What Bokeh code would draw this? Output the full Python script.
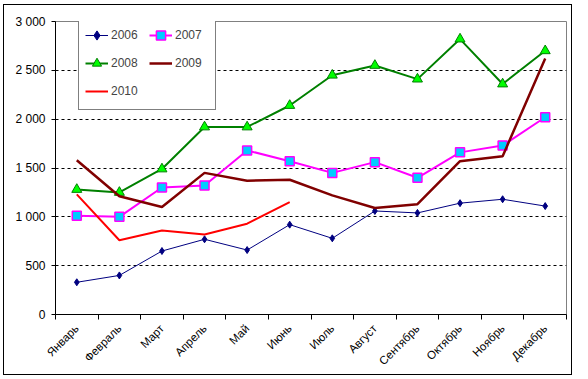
import math
from bokeh.plotting import figure
from bokeh.models import FixedTicker, Legend, LegendItem
from bokeh.embed import file_html
from bokeh.resources import INLINE

months = ["Январь", "Февраль", "Март", "Апрель", "Май", "Июнь",
          "Июль", "Август", "Сентябрь", "Октябрь", "Ноябрь", "Декабрь"]
y2006 = [330, 400, 650, 770, 660, 920, 780, 1060, 1040, 1140, 1180, 1110]
y2007 = [1010, 1000, 1300, 1320, 1680, 1570, 1450, 1560, 1400, 1660, 1730, 2020]
y2008 = [1280, 1250, 1490, 1920, 1920, 2140, 2450, 2550, 2410, 2820, 2360, 2700]
y2009 = [1580, 1210, 1100, 1450, 1370, 1380, 1220, 1090, 1130, 1570, 1620, 2620]
y2010 = [1230, 760, 860, 820, 930, 1150]
y_ticks = [0, 500, 1000, 1500, 2000, 2500, 3000]
y_tick_labels = ["0", "500", "1 000", "1 500", "2 000", "2 500", "3 000"]

FONT = "Liberation Sans"
FRAME_H = 293

p = figure(frame_width=511, frame_height=FRAME_H, x_range=(0, len(months)), y_range=(0, 3000),
           output_backend="svg", toolbar_location=None,
           min_border_left=51, min_border_top=16, min_border_right=5, min_border_bottom=54)
p.styles = {"margin-left": "3px", "margin-top": "4px", "border": "1px solid black"}
p.background_fill_color = "white"
p.border_fill_color = "white"
p.outline_line_color = "#808080"
p.outline_line_width = 1

xs = [i + 0.5 for i in range(len(months))]

# grid
p.xgrid.visible = False
p.ygrid.ticker = FixedTicker(ticks=[500, 1000, 1500, 2000, 2500])
p.ygrid.grid_line_color = "black"
p.ygrid.grid_line_dash = "3 3"
p.ygrid.grid_line_width = 1

# axes
p.xaxis.ticker = FixedTicker(ticks=xs, minor_ticks=list(range(len(months) + 1)))
p.xaxis.major_label_overrides = {x: m for x, m in zip(xs, months)}
p.xaxis.major_label_orientation = math.pi / 4
p.xaxis.major_tick_out = 0
p.xaxis.major_tick_in = 0
p.xaxis.minor_tick_out = 5
p.xaxis.minor_tick_in = 0
p.xaxis.minor_tick_line_color = "black"
p.xaxis.axis_line_color = "black"
p.xaxis.major_label_standoff = 7

p.yaxis.ticker = FixedTicker(ticks=y_ticks)
p.yaxis.major_label_overrides = {t: l for t, l in zip(y_ticks, y_tick_labels)}
p.yaxis.major_tick_out = 4
p.yaxis.major_tick_in = 0
p.yaxis.minor_tick_out = 0
p.yaxis.minor_tick_in = 0
p.yaxis.axis_line_color = "black"
p.yaxis.major_label_standoff = 6

for ax in (p.xaxis, p.yaxis):
    ax.major_label_text_font = FONT
    ax.major_label_text_color = "black"
    ax.major_tick_line_color = "black"
p.yaxis.major_label_text_font_size = "12px"
p.xaxis.major_label_text_font_size = "11.5px"

# series
l06 = p.line(xs, y2006, line_color="#000080", line_width=1)
m06 = p.scatter(xs, y2006, marker="diamond", size=7, fill_color="#000080", line_color="#000080")
l07 = p.line(xs, y2007, line_color="#FF00FF", line_width=2)
m07 = p.scatter(xs, y2007, marker="square", size=9, fill_color="#00CCFF", line_color="#FF00FF", line_width=1.5)
l08 = p.line(xs, y2008, line_color="#008000", line_width=2)
m08 = p.scatter(xs, y2008, marker="triangle", size=10, fill_color="#00FF00", line_color="#008000", line_width=1)
l09 = p.line(xs, y2009, line_color="#800000", line_width=2.5)
l10 = p.line(xs[:len(y2010)], y2010, line_color="#FF0000", line_width=2)

legend = Legend(items=[
    LegendItem(label="2006", renderers=[l06, m06]),
    LegendItem(label="2007", renderers=[l07, m07]),
    LegendItem(label="2008", renderers=[l08, m08]),
    LegendItem(label="2009", renderers=[l09]),
    LegendItem(label="2010", renderers=[l10]),
], orientation="horizontal", ncols=2)
legend.location = (23, FRAME_H - 1 - 88)
legend.label_text_font = FONT
legend.label_text_font_size = "12px"
legend.glyph_width = 23
legend.glyph_height = 24
legend.label_height = 24
legend.label_width = 34
legend.label_standoff = 3
legend.spacing = 4
legend.padding = 6
legend.margin = 0
legend.border_line_color = "black"
legend.border_line_width = 1
legend.background_fill_color = "white"
legend.background_fill_alpha = 1
p.add_layout(legend, "center")

open("out.html", "w").write(file_html(p, INLINE))
